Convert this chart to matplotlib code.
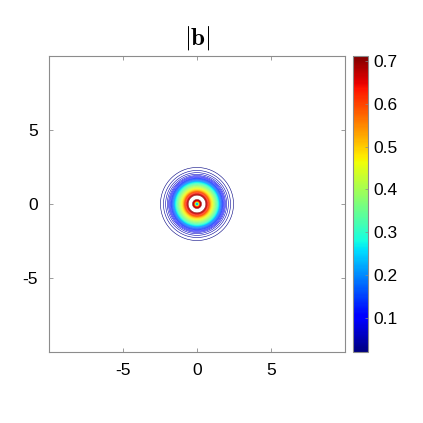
import numpy as np
import matplotlib
matplotlib.use("Agg")
import matplotlib.pyplot as plt
from matplotlib import cm, colors

plt.rcParams['font.family'] = ['Liberation Sans', 'DejaVu Sans']
plt.rcParams['mathtext.fontset'] = 'cm'
plt.rcParams['axes.unicode_minus'] = False

# radial profile of |b| (radius, value)
radius = [0.0, 0.07, 0.13, 0.20, 0.27, 0.35, 0.42, 0.50, 0.56, 0.62, 0.70, 0.80,
          0.88, 0.95, 1.08, 1.22, 1.42, 1.55, 1.75, 1.90, 2.05, 2.20, 2.33, 2.45,
          2.6, 15.0]
bmag = [0.15, 0.22, 0.32, 0.60, 0.69, 0.708, 0.714, 0.714, 0.708, 0.69, 0.64, 0.60,
        0.54, 0.50, 0.44, 0.38, 0.29, 0.20, 0.12, 0.08, 0.055, 0.04, 0.028, 0.021,
        0.012, 0.012]

clim = [0.02, 0.712]
n_levels = 50
cbar_ticks = [0.1, 0.2, 0.3, 0.4, 0.5, 0.6, 0.7]
axis_ticks = [-5, 0, 5]
lim = [-10, 10]

x = np.linspace(-10, 10, 801)
X, Y = np.meshgrid(x, x)
R = np.hypot(X, Y)
B = np.interp(R, radius, bmag)

fig = plt.figure(figsize=(4.23, 4.23), dpi=100)
ax = fig.add_axes([49/423, 71/423, 296/423, 296/423])
levels = np.linspace(clim[0], clim[1], n_levels)[:-1]
norm = colors.Normalize(vmin=clim[0], vmax=clim[1])
ax.contour(X, Y, B, levels=levels, cmap='jet', norm=norm, linewidths=0.4)
ax.set_xlim(lim)
ax.set_ylim(lim)
ax.set_aspect('equal')
ax.set_xticks(axis_ticks)
ax.set_yticks(axis_ticks)
ax.tick_params(direction='in', length=3, width=0.6, top=True, right=True,
               labelsize=12.5, colors='#8c8c8c', pad=8)
for lab in ax.get_xticklabels() + ax.get_yticklabels():
    lab.set_color('black')
for s in ax.spines.values():
    s.set_color('#8c8c8c')
    s.set_linewidth(0.8)
ax.set_title(r'$|\mathbf{b}|$', fontsize=18, pad=8)

cax = fig.add_axes([353/423, 71/423, 15/423, 296/423])
sm = cm.ScalarMappable(norm=norm, cmap='jet')
cb = fig.colorbar(sm, cax=cax, ticks=cbar_ticks)
cb.ax.tick_params(direction='in', length=2, width=0.5, labelsize=12.5, pad=4,
                  colors='#8c8c8c')
cb.ax.set_yticklabels([f'{t:.1f}' for t in cbar_ticks])
for lab in cb.ax.get_yticklabels():
    lab.set_color('black')
cb.outline.set_edgecolor('#8c8c8c')
cb.outline.set_linewidth(0.8)

fig.savefig('out.png', dpi=100)
